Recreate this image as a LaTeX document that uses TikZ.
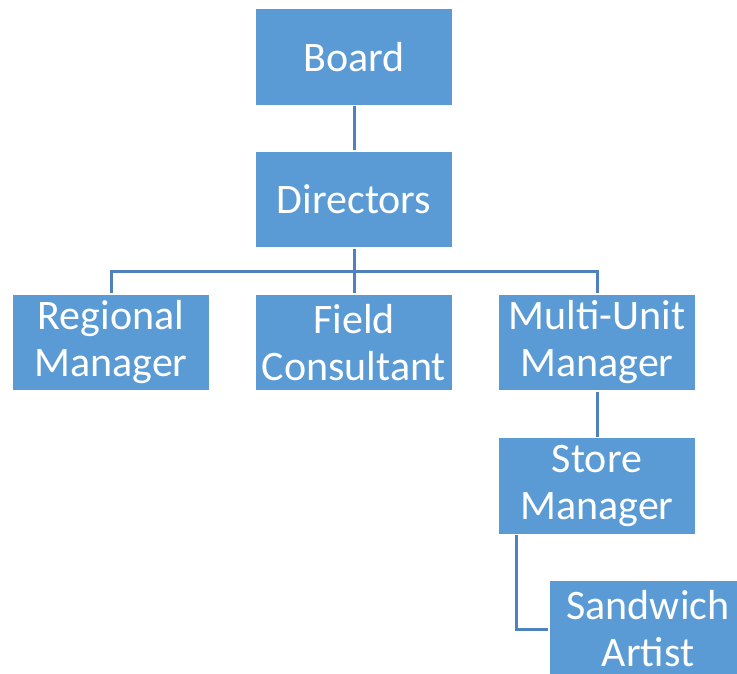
\documentclass[tikz,border=0pt]{standalone}
\usepackage{fontspec}
\setmainfont{Carlito}
\begin{document}
\begin{tikzpicture}[x=1pt,y=-1pt,
  orgbox/.style={rectangle, fill=boxblue, draw=white, line width=1.5pt,
    minimum width=198pt, minimum height=97pt, inner sep=0pt,
    text=white, align=center, font=\fontsize{42}{47}\selectfont},
  link/.style={draw=lineblue, line width=3pt}]
\definecolor{boxblue}{HTML}{5B9BD5}
\definecolor{lineblue}{HTML}{4F81BD}
\useasboundingbox (0,0) rectangle (737,674);
\clip (0,0) rectangle (737,674);
% boxes
\node[orgbox] (board) at (354,57) {Board};
\node[orgbox] (dir) at (354,199.5) {Directors};
\node[orgbox] (reg) at (111,342.5) {Regional\\Manager};
\node[orgbox] (field) at (354,342.5) {Field\\Consultant};
\node[orgbox] (multi) at (597,342.5) {Multi-Unit\\Manager};
\node[orgbox] (store) at (597,486) {Store\\Manager};
\node[orgbox] (sand) at (648,629) {Sandwich\\Artist};
% connectors
\draw[link] (board.south) -- (dir.north);
\coordinate (bus) at ([yshift=-23pt]dir.south);
\draw[link] (dir.south) -- (bus);
\draw[link] (bus) -| (reg.north);
\draw[link] (bus) -- (field.north);
\draw[link] (bus) -| (multi.north);
\draw[link] (multi.south) -- (store.north);
\coordinate (drop) at ([xshift=19pt]store.south west);
\draw[link] (drop) |- (sand.west);
\end{tikzpicture}
\end{document}
